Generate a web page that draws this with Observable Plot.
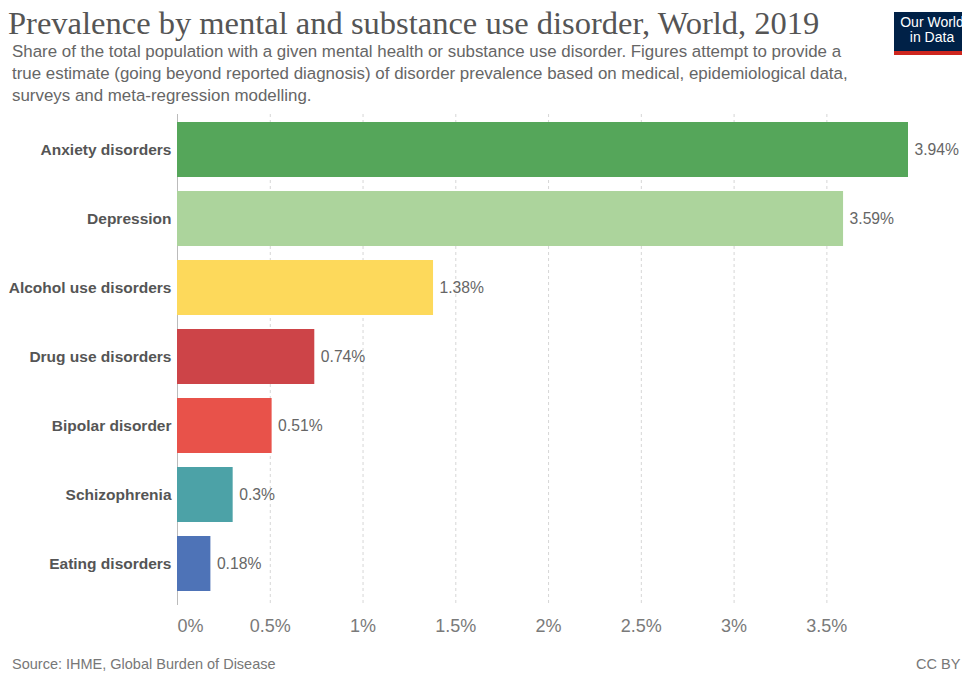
<!DOCTYPE html>
<html>
<head>
<meta charset="utf-8">
<script src="https://cdn.jsdelivr.net/npm/d3@7"></script>
<script src="https://cdn.jsdelivr.net/npm/@observablehq/plot@0.6"></script>
<style>
  html, body { margin: 0; padding: 0; background: #fff; width: 962px; height: 673px; overflow: hidden; position: relative; }
  .abs { position: absolute; white-space: nowrap; }
  #title { left: 8px; top: 6px; font-family: "Liberation Serif", serif; font-size: 32.5px; line-height: 34px; color: #555; }
  #subtitle { left: 12px; top: 41px; font-family: "Liberation Sans", Arial, sans-serif; font-size: 16.9px; line-height: 22px; color: #666; }
  #logo { left: 894px; top: 12px; width: 76px; height: 36px; background: #002147; border-bottom: 4px solid #ce261e; color: #fff; font-family: "Liberation Sans", Arial, sans-serif; font-size: 14px; line-height: 15px; text-align: center; padding-top: 3px; box-sizing: content-box; }
  #chart { left: 0; top: 104px; }
  #source { left: 12px; top: 658px; font-family: "Liberation Sans", Arial, sans-serif; font-size: 14.5px; line-height: 13px; color: #777; }
  #cc { left: 916px; top: 658px; font-family: "Liberation Sans", Arial, sans-serif; font-size: 14.5px; line-height: 13px; color: #777; }
</style>
</head>
<body>
<div id="title" class="abs">Prevalence by mental and substance use disorder, World, 2019</div>
<div id="subtitle" class="abs">Share of the total population with a given mental health or substance use disorder. Figures attempt to provide a<br>true estimate (going beyond reported diagnosis) of disorder prevalence based on medical, epidemiological data,<br>surveys and meta-regression modelling.</div>
<div id="logo" class="abs">Our World<br>in Data</div>
<div id="chart" class="abs"></div>
<div id="source" class="abs">Source: IHME, Global Burden of Disease</div>
<div id="cc" class="abs">CC BY</div>
<script>
const categories = ["Anxiety disorders", "Depression", "Alcohol use disorders", "Drug use disorders", "Bipolar disorder", "Schizophrenia", "Eating disorders"];
const values = [3.94, 3.59, 1.38, 0.74, 0.51, 0.3, 0.18];
const colors = ["#55a65a", "#acd49c", "#fdd95b", "#cd4448", "#e8524a", "#4ca2a7", "#4e73b7"];
const tickValues = [0, 0.5, 1, 1.5, 2, 2.5, 3, 3.5];
const tickLabels = ["0%", "0.5%", "1%", "1.5%", "2%", "2.5%", "3%", "3.5%"];

const data = categories.map((c, i) => ({name: c, value: values[i], color: colors[i]}));
const fmt = d => tickLabels[tickValues.indexOf(d)];

const chart = Plot.plot({
  width: 962,
  height: 541,
  marginLeft: 177,
  marginRight: 54,
  marginTop: 10,
  marginBottom: 46,
  style: { fontFamily: "'Liberation Sans', Arial, sans-serif", background: "transparent" },
  x: { domain: [0, 3.94], axis: null, label: null },
  y: { domain: categories, paddingInner: 0.2, paddingOuter: 0.1, axis: null, label: null },
  color: { type: "identity" },
  marks: [
    Plot.ruleX(tickValues.slice(1), { stroke: "#d6d6d6", strokeDasharray: "3,3", insetBottom: -6 }),
    Plot.ruleX([0], { stroke: "#bbb", strokeWidth: 1, insetBottom: -6 }),
    Plot.barX(data, { y: "name", x: "value", fill: "color" }),
    Plot.text(data, { y: "name", x: "value", text: d => d.value + "%", textAnchor: "start", dx: 6, fill: "#666", fontSize: 15.7 }),
    Plot.axisY({ tickSize: 0, tickPadding: 6, fontSize: 15.5, fontWeight: "bold", color: "#555", label: null }),
    Plot.axisX({ ticks: [0], tickFormat: fmt, tickSize: 0, tickPadding: 20, fontSize: 18, color: "#7a7a7a", textAnchor: "start", label: null }),
    Plot.axisX({ ticks: tickValues.slice(1), tickFormat: fmt, tickSize: 0, tickPadding: 20, fontSize: 18, color: "#7a7a7a", label: null })
  ]
});
document.getElementById("chart").appendChild(chart);
</script>
</body>
</html>
